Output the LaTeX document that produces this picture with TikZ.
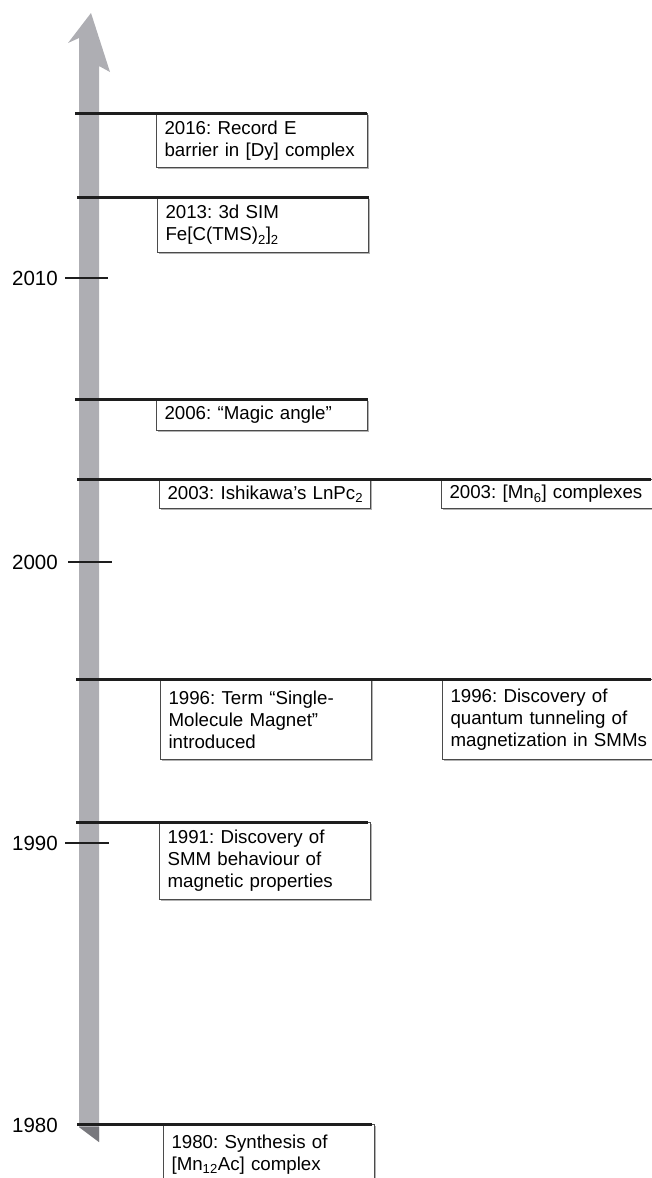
\documentclass[tikz,border=0pt]{standalone}
\usepackage{fontspec}
\setmainfont{Liberation Sans}
\usetikzlibrary{shadows}
\definecolor{shaftc}{RGB}{174,174,179}
\definecolor{shaftdark}{RGB}{120,120,125}
\definecolor{linec}{RGB}{30,30,30}
\definecolor{boxc}{RGB}{75,75,75}
\begin{document}
\frenchspacing
\begin{tikzpicture}[x=1pt,y=-1pt,
  evbox/.style={draw=boxc, line width=1.1pt, fill=white, anchor=north west,
    inner xsep=8pt, inner ysep=0pt, text width=195pt, align=left,
    font=\fontsize{18.7}{22}\selectfont,
    drop shadow={shadow xshift=1.5pt, shadow yshift=-1.5pt, fill=black, opacity=0.3}},
  widebox/.style={evbox, text width=215pt},
  yearline/.style={draw=linec, line width=3pt},
  tickline/.style={draw=linec, line width=1.1pt},
  yearlabel/.style={anchor=east, inner sep=0pt, font=\fontsize{20.5}{24}\selectfont}]
\useasboundingbox (0,0) rectangle (651,1178);
% shaft of the time arrow
\fill[shaftc] (79,1127) -- (79,38) -- (68,43) -- (91,13) -- (110,72) -- (99,66) -- (99,1142) -- cycle;
\fill[shaftdark] (79,1127) -- (99,1127) -- (99,1142) -- cycle;
% year labels and ticks
\node[yearlabel] (y2010) at (58,278) {2010};
\node[yearlabel] (y2000) at (58,562) {2000};
\node[yearlabel] (y1990) at (58,843) {1990};
\node[yearlabel] (y1980) at (58,1125) {1980};
\coordinate (t2010a) at (65,278); \coordinate (t2010b) at (108,278);
\coordinate (t2000a) at (68,562); \coordinate (t2000b) at (112,562);
\coordinate (t1990a) at (65,843); \coordinate (t1990b) at (109,843);
\draw[tickline] (t2010a) -- (t2010b);
\draw[tickline] (t2000a) -- (t2000b);
\draw[tickline] (t1990a) -- (t1990b);
% event boxes
\node[evbox, minimum height=54pt] (e2016) at (156,113) {2016: Record E\\barrier in [Dy] complex};
\node[evbox, minimum height=55pt] (e2013) at (157,197) {2013: 3d SIM\\Fe[C(TMS)\textsubscript{2}]\textsubscript{2}};
\node[evbox, minimum height=31pt] (e2006) at (156,399) {2006: “Magic angle”};
\node[evbox, minimum height=29pt] (e2003a) at (159,479) {\mbox{2003: Ishikawa’s LnPc\textsubscript{2}}};
\node[widebox, minimum height=29pt] (e2003b) at (441,479) {2003: [Mn\textsubscript{6}] complexes};
\node[evbox, minimum height=80pt] (e1996a) at (160,679) {1996: Term “Single-\\Molecule Magnet”\\introduced};
\node[widebox, minimum height=80pt] (e1996b) at (442,679) {1996: Discovery of\\quantum tunneling of\\magnetization in SMMs};
\node[evbox, minimum height=77pt] (e1991) at (159,822) {1991: Discovery of\\SMM behaviour of\\magnetic properties};
\node[evbox, minimum height=60pt] (e1980) at (163,1124) {1980: Synthesis of\\{[}Mn\textsubscript{12}Ac] complex};
% year lines
\coordinate (l2016a) at (75,113); \coordinate (l2016b) at (367,113);
\coordinate (l2013a) at (77,197); \coordinate (l2013b) at (369,197);
\coordinate (l2006a) at (75,399); \coordinate (l2006b) at (368,399);
\coordinate (l2003a) at (77,479); \coordinate (l2003b) at (651,479);
\coordinate (l1996a) at (76,679); \coordinate (l1996b) at (651,679);
\coordinate (l1991a) at (76,822); \coordinate (l1991b) at (368,822);
\coordinate (l1980a) at (77,1124); \coordinate (l1980b) at (372,1124);
\draw[yearline] (l2016a) -- (l2016b);
\draw[yearline] (l2013a) -- (l2013b);
\draw[yearline] (l2006a) -- (l2006b);
\draw[yearline] (l2003a) -- (l2003b);
\draw[yearline] (l1996a) -- (l1996b);
\draw[yearline] (l1991a) -- (l1991b);
\draw[yearline] (l1980a) -- (l1980b);
\end{tikzpicture}
\end{document}
